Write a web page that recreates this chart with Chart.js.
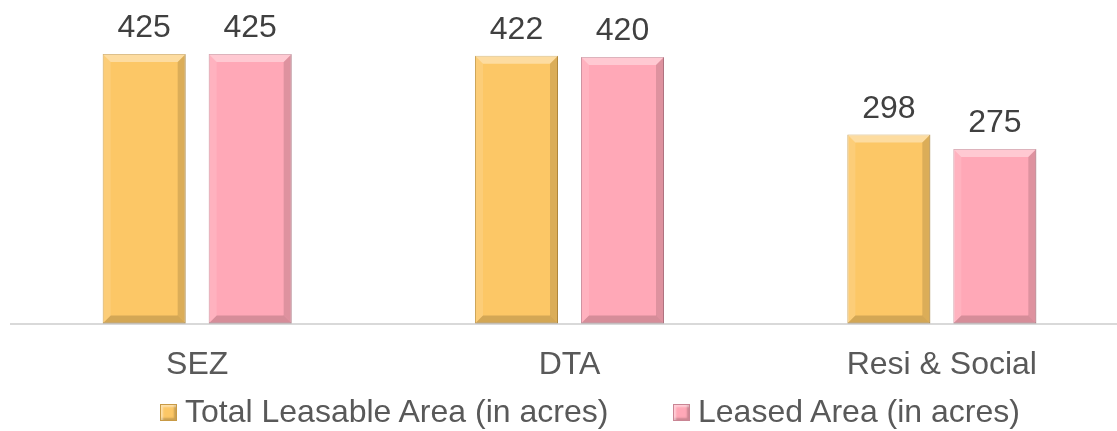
<!DOCTYPE html>
<html>
<head>
<meta charset="utf-8">
<script src="https://cdn.jsdelivr.net/npm/chart.js@4.4.1/dist/chart.umd.min.js"></script>
<style>
    html, body { margin: 0; padding: 0; background: #fff; overflow: hidden; }
    #wrap { position: relative; width: 1128px; height: 431px; }
    #legend {
        position: absolute; top: 393px; left: 160px;
        font-family: "Liberation Sans", Arial, sans-serif; font-size: 32px; color: #595959;
    }
    .item { position: absolute; top: 0; white-space: nowrap; line-height: 36px; }
    .box {
        position: absolute; top: 11px; width: 17px; height: 17px; box-sizing: border-box;
        box-shadow: inset 2px 2px 2px rgba(255,255,255,0.45), inset -2px -2px 2px rgba(0,0,0,0.2);
    }
    .label { position: absolute; left: 25px; top: 0; }
</style>
</head>
<body>
<div id="wrap">
    <canvas id="areaChart" width="1128" height="431"></canvas>
    <div id="legend"></div>
</div>
<script>
// data
const categories = ['SEZ', 'DTA', 'Resi & Social'];
const totalLeasable = [425, 422, 298];
const leased = [425, 420, 275];
const seriesNames = ['Total Leasable Area (in acres)', 'Leased Area (in acres)'];

const FONT = '"Liberation Sans", Arial, sans-serif';
const fills = ['#FCC766', '#FFA8B7'];
const edges = ['#C89A45', '#C98594'];

/**
 * Bevelled bar faces plus value labels above each bar
 */
const bevelPlugin = {
    id: 'bevel',
    afterDatasetsDraw(chart) {
        const ctx = chart.ctx;
        chart.data.datasets.forEach((ds, di) => {
            const meta = chart.getDatasetMeta(di);
            meta.data.forEach((bar, i) => {
                const l = bar.x - bar.width / 2;
                const r = bar.x + bar.width / 2;
                const t = bar.y;
                const b = bar.base;
                const s = 8;
                const poly = (pts, color) => {
                    ctx.beginPath();
                    ctx.moveTo(pts[0][0], pts[0][1]);
                    pts.slice(1).forEach(p => ctx.lineTo(p[0], p[1]));
                    ctx.closePath();
                    ctx.fillStyle = color;
                    ctx.fill();
                };
                ctx.save();
                poly([[l, t], [r, t], [r - s, t + s], [l + s, t + s]], 'rgba(255,255,255,0.38)');
                poly([[l, t], [l + s, t + s], [l + s, b - s], [l, b]], 'rgba(255,255,255,0.12)');
                poly([[r, t], [r - s, t + s], [r - s, b - s], [r, b]], 'rgba(0,0,0,0.13)');
                poly([[l, b], [l + s, b - s], [r - s, b - s], [r, b]], 'rgba(0,0,0,0.16)');
                ctx.fillStyle = '#404040';
                ctx.font = '32px ' + FONT;
                ctx.textAlign = 'center';
                ctx.textBaseline = 'alphabetic';
                ctx.fillText(ds.data[i], bar.x, t - 17);
                ctx.restore();
            });
        });
    }
};

new Chart(document.getElementById('areaChart'), {
    type: 'bar',
    data: {
        labels: categories,
        datasets: [{
            label: seriesNames[0],
            data: totalLeasable,
            backgroundColor: fills[0],
            borderColor: edges[0],
            borderWidth: 1,
            borderSkipped: false
        }, {
            label: seriesNames[1],
            data: leased,
            backgroundColor: fills[1],
            borderColor: edges[1],
            borderWidth: 1,
            borderSkipped: false
        }]
    },
    options: {
        responsive: false,
        animation: false,
        categoryPercentage: 0.5694,
        barPercentage: 0.783,
        layout: { padding: { left: 11, right: 0, top: 0, bottom: 25 } },
        plugins: {
            legend: { display: false },
            tooltip: { enabled: false }
        },
        scales: {
            y: {
                display: false,
                min: 0,
                max: 510
            },
            x: {
                grid: { display: false, drawTicks: false },
                border: { display: true, color: '#D9D9D9', width: 2 },
                ticks: {
                    padding: 22,
                    color: '#595959',
                    font: { family: FONT, size: 32 }
                }
            }
        }
    },
    plugins: [bevelPlugin]
});

// legend built from the series names
const legend = document.getElementById('legend');
const offsets = [0, 513];
seriesNames.forEach((name, i) => {
    const item = document.createElement('div');
    item.className = 'item';
    item.style.left = offsets[i] + 'px';
    item.innerHTML = '<span class="box" style="background:' + fills[i] + ';border:1px solid ' + edges[i] + '"></span>' +
        '<span class="label">' + name + '</span>';
    legend.appendChild(item);
});
</script>
</body>
</html>
